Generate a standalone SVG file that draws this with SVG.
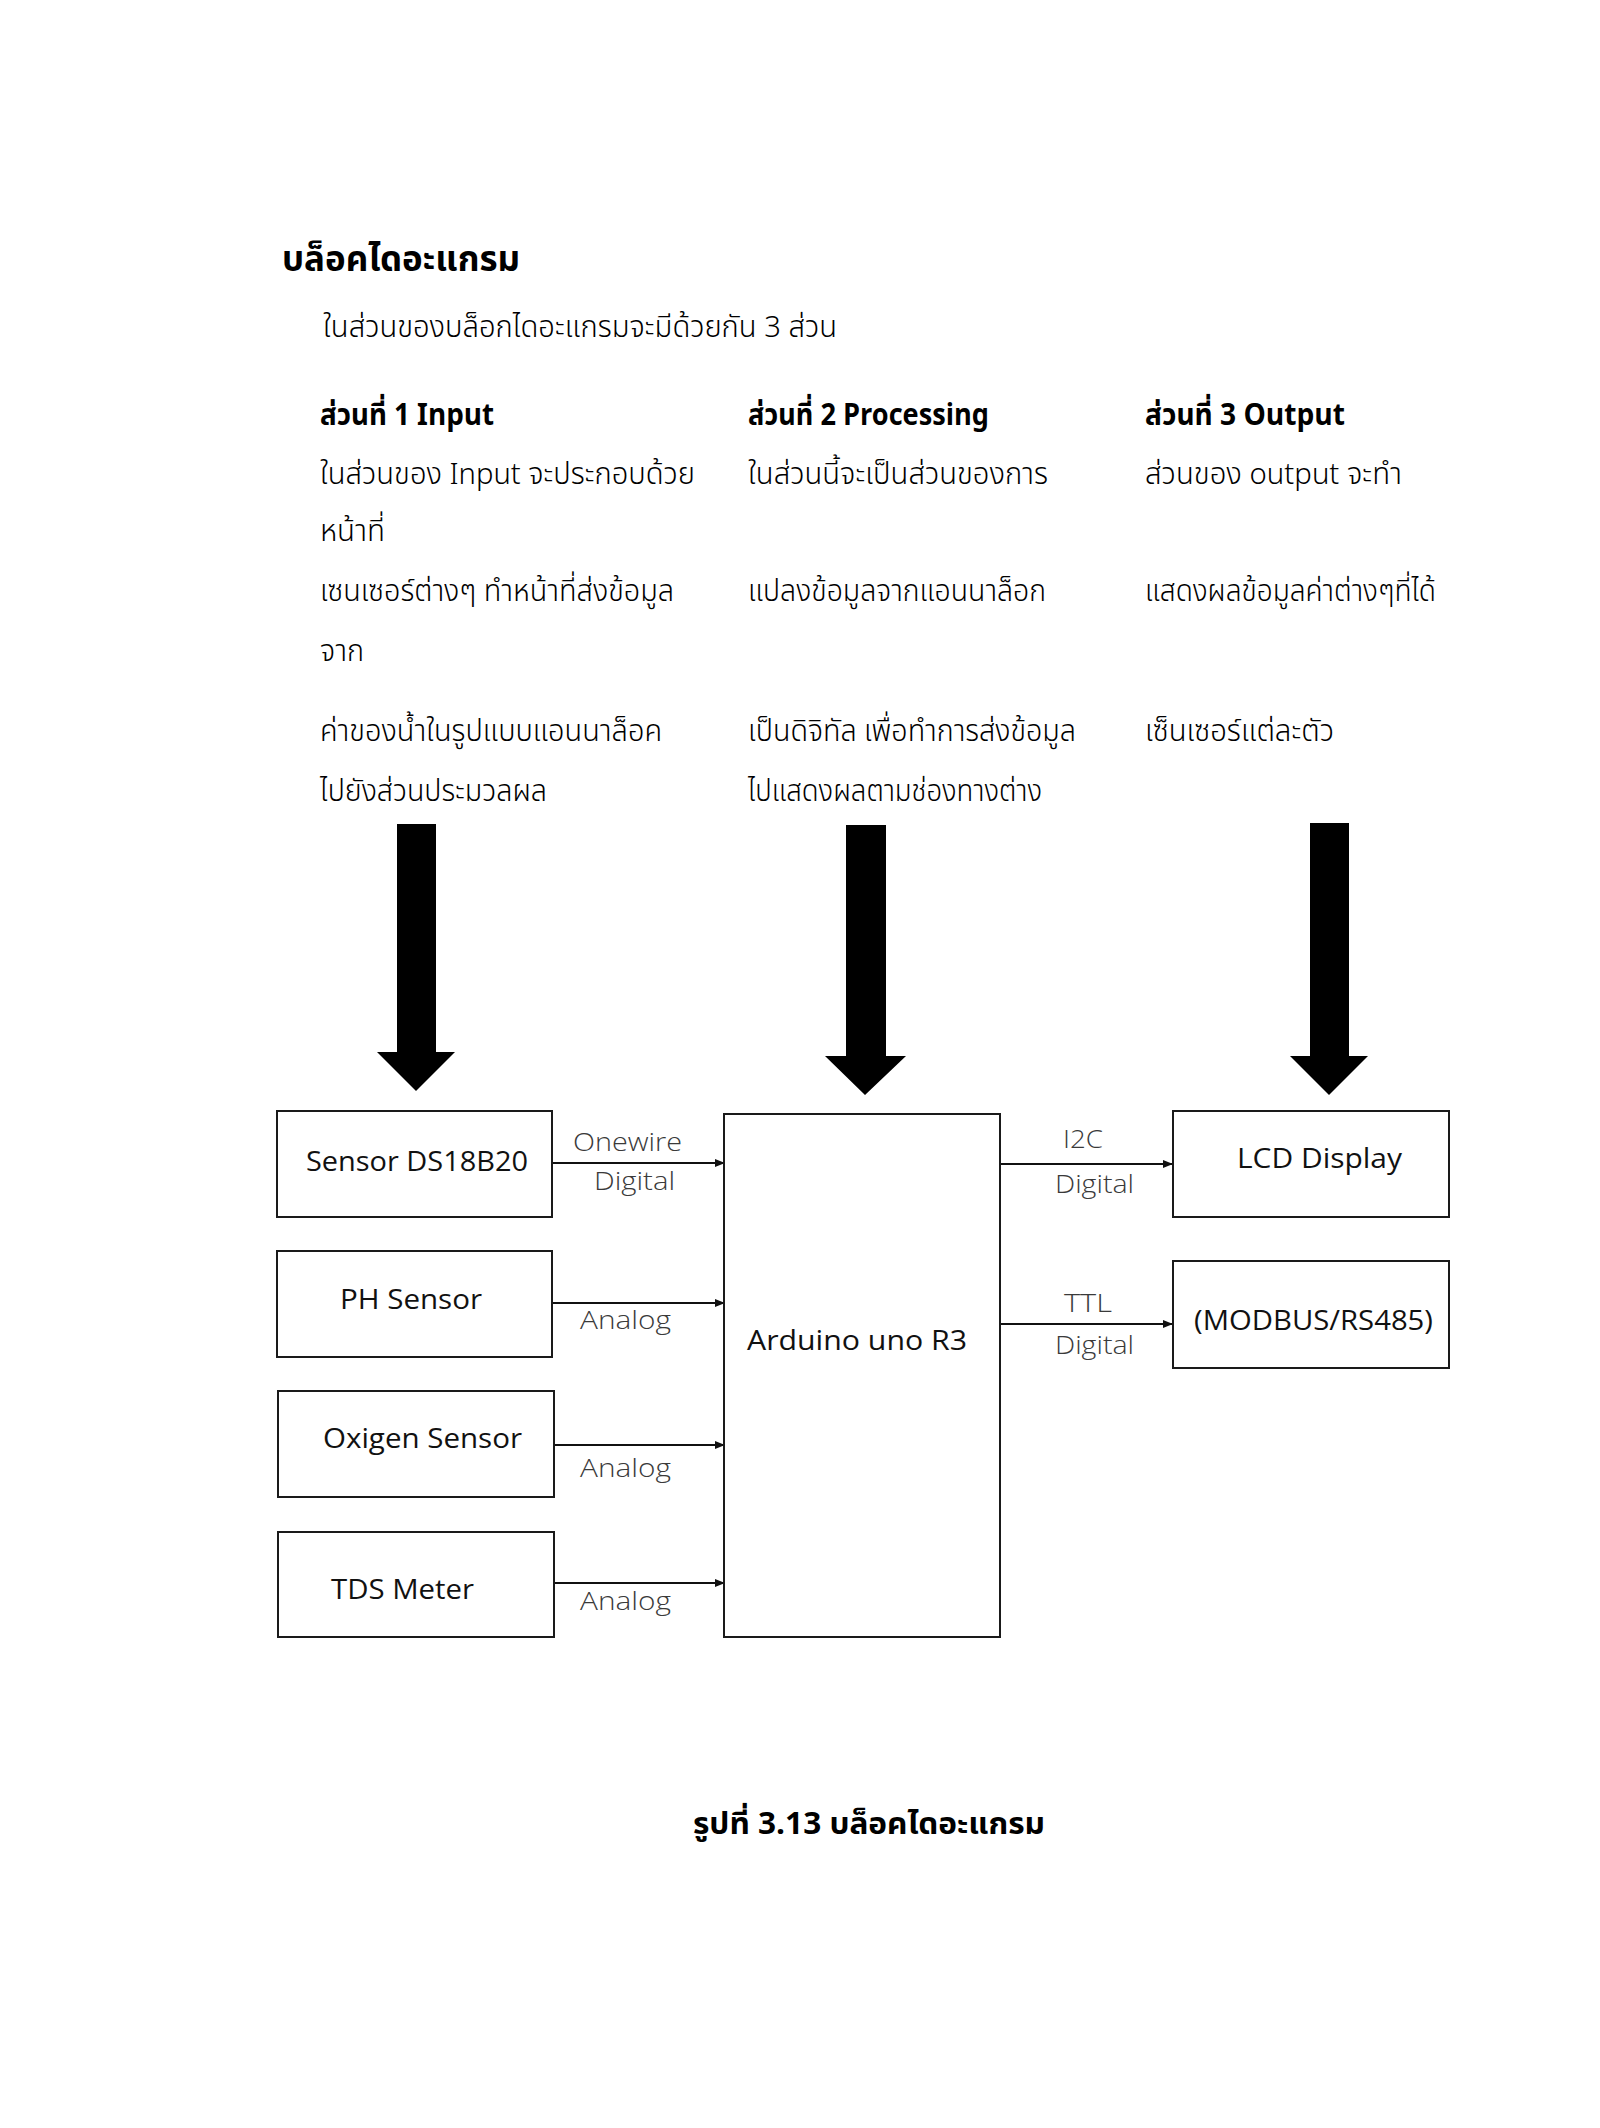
<svg xmlns="http://www.w3.org/2000/svg" width="1600" height="2128" viewBox="0 0 1600 2128">
<style>
.th{font-family:"Noto Sans Thai","Noto Sans Thai Looped","Loma","Garuda","Tlwg Typo","Norasi","Noto Sans",sans-serif;fill:#000}
.tb{font-weight:bold}
.body{font-size:30px;font-weight:300}
.body.tb{font-weight:bold}
.box{fill:#fff;stroke:#1a1a1a;stroke-width:2}
.lbl{font-family:"Open Sans","Noto Sans","Liberation Sans",sans-serif;font-size:27px;fill:#111}
.cl{font-family:"Open Sans","Noto Sans","Liberation Sans",sans-serif;font-size:25px;font-weight:300;fill:#3a3a3a}
.conn{stroke:#111;stroke-width:2;fill:none}
.big{fill:#000}
</style>
<defs>
<marker id="ah" markerWidth="10" markerHeight="10" refX="9" refY="5" orient="auto" markerUnits="userSpaceOnUse">
<path d="M0,1 L10,5 L0,9 Z" fill="#111"/>
</marker>
</defs>
<rect width="1600" height="2128" fill="#fff"/>

<g id="text-block">
<text class="th tb" x="282" y="271" font-size="36" textLength="238" lengthAdjust="spacingAndGlyphs">บล็อคไดอะแกรม</text>
<text class="th body" x="323" y="337" textLength="514" lengthAdjust="spacingAndGlyphs">ในส่วนของบล็อกไดอะแกรมจะมีด้วยกัน 3 ส่วน</text>

<text class="th body tb" x="320" y="425" textLength="174" lengthAdjust="spacingAndGlyphs">ส่วนที่ 1 Input</text>
<text class="th body tb" x="748" y="425" textLength="241" lengthAdjust="spacingAndGlyphs">ส่วนที่ 2 Processing</text>
<text class="th body tb" x="1145" y="425" textLength="200" lengthAdjust="spacingAndGlyphs">ส่วนที่ 3 Output</text>

<text class="th body" x="320" y="484" textLength="375" lengthAdjust="spacingAndGlyphs">ในส่วนของ Input จะประกอบด้วย</text>
<text class="th body" x="320" y="541" textLength="65" lengthAdjust="spacingAndGlyphs">หน้าที่</text>
<text class="th body" x="320" y="601" textLength="354" lengthAdjust="spacingAndGlyphs">เซนเซอร์ต่างๆ ทำหน้าที่ส่งข้อมูล</text>
<text class="th body" x="320" y="661" textLength="44" lengthAdjust="spacingAndGlyphs">จาก</text>
<text class="th body" x="320" y="741" textLength="342" lengthAdjust="spacingAndGlyphs">ค่าของน้ำในรูปแบบแอนนาล็อค</text>
<text class="th body" x="320" y="801" textLength="227" lengthAdjust="spacingAndGlyphs">ไปยังส่วนประมวลผล</text>

<text class="th body" x="748" y="484" textLength="300" lengthAdjust="spacingAndGlyphs">ในส่วนนี้จะเป็นส่วนของการ</text>
<text class="th body" x="748" y="601" textLength="298" lengthAdjust="spacingAndGlyphs">แปลงข้อมูลจากแอนนาล็อก</text>
<text class="th body" x="748" y="741" textLength="328" lengthAdjust="spacingAndGlyphs">เป็นดิจิทัล เพื่อทำการส่งข้อมูล</text>
<text class="th body" x="748" y="801" textLength="294" lengthAdjust="spacingAndGlyphs">ไปแสดงผลตามช่องทางต่าง</text>

<text class="th body" x="1145" y="484" textLength="257" lengthAdjust="spacingAndGlyphs">ส่วนของ output จะทำ</text>
<text class="th body" x="1145" y="601" textLength="291" lengthAdjust="spacingAndGlyphs">แสดงผลข้อมูลค่าต่างๆที่ได้</text>
<text class="th body" x="1145" y="741" textLength="189" lengthAdjust="spacingAndGlyphs">เซ็นเซอร์แต่ละตัว</text>
</g>

<g id="big-arrows">
<polygon class="big" points="397,824 436,824 436,1052 455,1052 416,1091 377,1052 397,1052"/>
<polygon class="big" points="846,825 886,825 886,1056 906,1056 865,1095 825,1056 846,1056"/>
<polygon class="big" points="1310,823 1349,823 1349,1056 1368,1056 1329,1095 1290,1056 1310,1056"/>
</g>

<g id="connectors">
<line class="conn" x1="553" y1="1163" x2="724" y2="1163" marker-end="url(#ah)"/>
<line class="conn" x1="553" y1="1303" x2="724" y2="1303" marker-end="url(#ah)"/>
<line class="conn" x1="555" y1="1445" x2="724" y2="1445" marker-end="url(#ah)"/>
<line class="conn" x1="555" y1="1583" x2="724" y2="1583" marker-end="url(#ah)"/>
<line class="conn" x1="1001" y1="1164" x2="1172" y2="1164" marker-end="url(#ah)"/>
<line class="conn" x1="1001" y1="1324" x2="1172" y2="1324" marker-end="url(#ah)"/>
<text class="cl" x="573" y="1151" textLength="109" lengthAdjust="spacingAndGlyphs">Onewire</text>
<text class="cl" x="594" y="1190" textLength="81" lengthAdjust="spacingAndGlyphs">Digital</text>
<text class="cl" x="580" y="1329" textLength="91" lengthAdjust="spacingAndGlyphs">Analog</text>
<text class="cl" x="580" y="1477" textLength="91" lengthAdjust="spacingAndGlyphs">Analog</text>
<text class="cl" x="580" y="1610" textLength="91" lengthAdjust="spacingAndGlyphs">Analog</text>
<text class="cl" x="1063" y="1148" textLength="40" lengthAdjust="spacingAndGlyphs">I2C</text>
<text class="cl" x="1055" y="1193" textLength="79" lengthAdjust="spacingAndGlyphs">Digital</text>
<text class="cl" x="1064" y="1312" textLength="48" lengthAdjust="spacingAndGlyphs">TTL</text>
<text class="cl" x="1055" y="1354" textLength="79" lengthAdjust="spacingAndGlyphs">Digital</text>
</g>

<g id="node-ds18b20">
<rect class="box" x="277" y="1111" width="275" height="106"/>
<text class="lbl" x="306" y="1171" textLength="222" lengthAdjust="spacingAndGlyphs">Sensor DS18B20</text>
</g>
<g id="node-ph">
<rect class="box" x="277" y="1251" width="275" height="106"/>
<text class="lbl" x="340" y="1309" textLength="142" lengthAdjust="spacingAndGlyphs">PH Sensor</text>
</g>
<g id="node-oxigen">
<rect class="box" x="278" y="1391" width="276" height="106"/>
<text class="lbl" x="323" y="1448" textLength="199" lengthAdjust="spacingAndGlyphs">Oxigen Sensor</text>
</g>
<g id="node-tds">
<rect class="box" x="278" y="1532" width="276" height="105"/>
<text class="lbl" x="331" y="1599" textLength="143" lengthAdjust="spacingAndGlyphs">TDS Meter</text>
</g>
<g id="node-arduino">
<rect class="box" x="724" y="1114" width="276" height="523"/>
<text class="lbl" x="747" y="1350" textLength="220" lengthAdjust="spacingAndGlyphs">Arduino uno R3</text>
</g>
<g id="node-lcd">
<rect class="box" x="1173" y="1111" width="276" height="106"/>
<text class="lbl" x="1237" y="1168" textLength="165" lengthAdjust="spacingAndGlyphs">LCD Display</text>
</g>
<g id="node-modbus">
<rect class="box" x="1173" y="1261" width="276" height="107"/>
<text class="lbl" x="1194" y="1330" textLength="239" lengthAdjust="spacingAndGlyphs">(MODBUS/RS485)</text>
</g>

<g id="caption">
<text class="th tb" x="693" y="1834" font-size="30" textLength="352" lengthAdjust="spacingAndGlyphs">รูปที่ 3.13 บล็อคไดอะแกรม</text>
</g>
</svg>
